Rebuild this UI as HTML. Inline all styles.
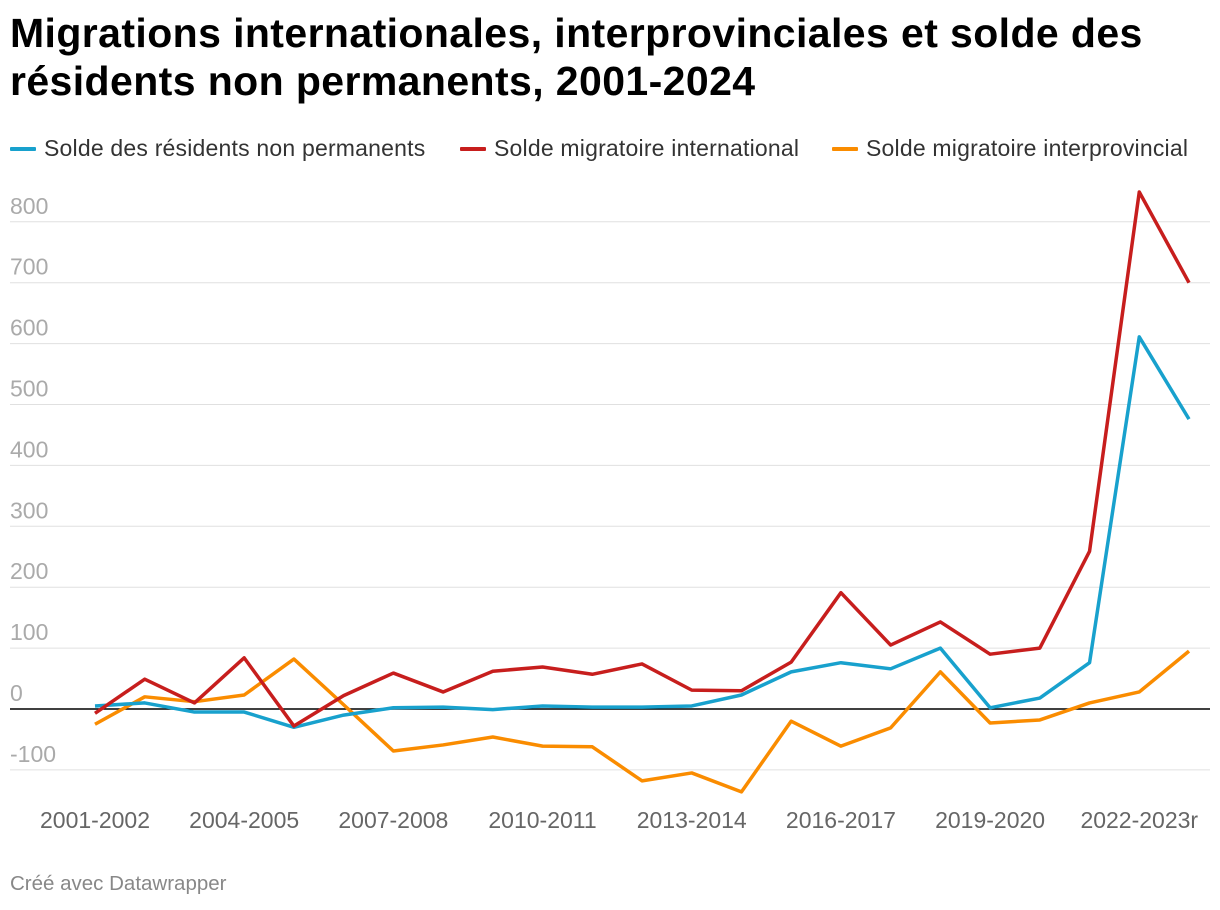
<!DOCTYPE html>
<html><head><meta charset="utf-8"><style>
body{margin:0;background:#fff;font-family:"Liberation Sans",sans-serif;}
#wrap{position:relative;width:1220px;height:910px;overflow:hidden}
h1{position:absolute;left:10px;top:9px;width:1180px;margin:0;font-size:41px;line-height:48px;font-weight:bold;color:#000;letter-spacing:0.4px}
.leg{position:absolute;top:135px;font-size:23px;color:#333;display:flex;align-items:center;white-space:nowrap;letter-spacing:0.2px}
.leg i{display:inline-block;width:26px;height:4px;margin-right:8px;border-radius:1px}
#foot{position:absolute;left:10px;top:872px;font-size:20.5px;color:#888}
</style></head><body>
<div id="wrap">
<h1>Migrations internationales, interprovinciales et solde des<br>résidents non permanents, 2001-2024</h1>
<div class="leg" style="left:10px"><i style="background:#18a1cd"></i>Solde des résidents non permanents</div>
<div class="leg" style="left:460px"><i style="background:#c71e1d"></i>Solde migratoire international</div>
<div class="leg" style="left:832px"><i style="background:#fa8c00"></i>Solde migratoire interprovincial</div>
<svg id="plot" width="1220" height="910" style="position:absolute;left:0;top:0"></svg>
<div id="foot">Créé avec Datawrapper</div>
</div>
<script>
const categories=["2001-2002","2002-2003","2003-2004","2004-2005","2005-2006","2006-2007","2007-2008","2008-2009","2009-2010","2010-2011","2011-2012","2012-2013","2013-2014","2014-2015","2015-2016","2016-2017","2017-2018","2018-2019","2019-2020","2020-2021","2021-2022","2022-2023r","2023-2024"];
const npr=[5,10,-5,-5,-30,-10,2,3,-1,5,3,3,5,23,61,76,66,100,2,18,76,611,476];
const international=[-7,49,10,84,-28,22,59,28,62,69,57,74,31,30,77,191,105,143,90,100,259,849,700];
const interprovincial=[-25,20,12,23,82,7,-69,-59,-46,-61,-62,-118,-105,-136,-20,-61,-31,61,-23,-18,10,28,95];
const yTicks=[-100,0,100,200,300,400,500,600,700,800];
const xTickLabels=["2001-2002","2004-2005","2007-2008","2010-2011","2013-2014","2016-2017","2019-2020","2022-2023r"];
const NS="http://www.w3.org/2000/svg";
const svg=document.getElementById('plot');
const y=v=>709-v*0.609;
const x=i=>95+i*(1189-95)/(categories.length-1);
function mk(t,a){const e=document.createElementNS(NS,t);for(const k in a)e.setAttribute(k,a[k]);svg.appendChild(e);return e;}
yTicks.forEach(v=>{
 const l=mk('line',{x1:10,x2:1210,y1:y(v),y2:y(v),stroke:v===0?'#000':'#e0e0e0','stroke-width':v===0?1.5:1});
 
 
 const t=mk('text',{x:10,y:y(v)-8,fill:'#aaa','font-size':23,'font-family':'Liberation Sans,sans-serif'});
 t.textContent=v;
 
 
});
xTickLabels.forEach(lbl=>{
 const i=categories.indexOf(lbl);
 const t=mk('text',{x:x(i),y:828,fill:'#666','font-size':23,'text-anchor':'middle','font-family':'Liberation Sans,sans-serif'});
 t.textContent=lbl;
 
 
});
[[interprovincial,'#fa8c00','line-interprovincial'],[npr,'#18a1cd','line-npr'],[international,'#c71e1d','line-international']].forEach(([d,c,n])=>{
 const p=mk('polyline',{points:d.map((v,i)=>x(i)+','+y(v)).join(' '),fill:'none',stroke:c,'stroke-width':3.5,'stroke-linejoin':'round'});
 
 
});
</script>
</body></html>
